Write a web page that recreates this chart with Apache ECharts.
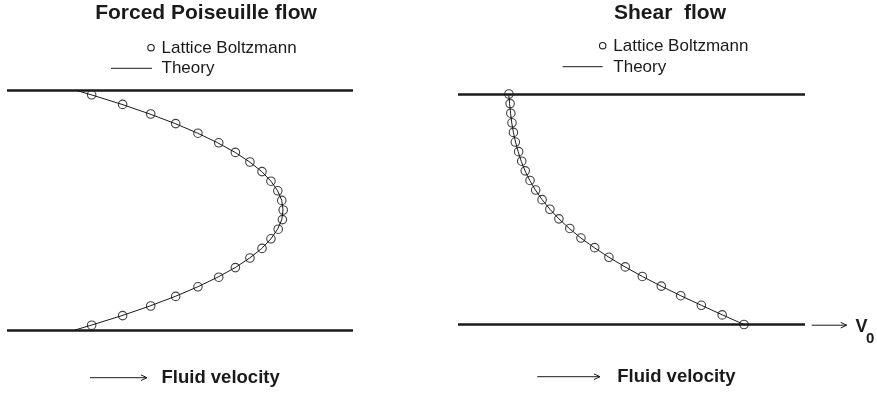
<!DOCTYPE html>
<html>
<head>
<meta charset="utf-8">
<script src="https://cdn.jsdelivr.net/npm/echarts@6/dist/echarts.min.js"></script>
<style>
  html, body { margin: 0; padding: 0; background: #fff; }
  #chart { width: 877px; height: 393px; }
</style>
</head>
<body>
<div id="chart"></div>
<script>
// Forced Poiseuille flow: lattice nodes across the channel (wall at 0 and 25)
const poiseuilleNodesY = [24.5, 23.5, 22.5, 21.5, 20.5, 19.5, 18.5, 17.5, 16.5, 15.5, 14.5, 13.5, 12.5,
                          11.5, 10.5, 9.5, 8.5, 7.5, 6.5, 5.5, 4.5, 3.5, 2.5, 1.5, 0.5];
const poiseuilleLB = [0.080, 0.229, 0.364, 0.484, 0.591, 0.691, 0.771, 0.841, 0.899, 0.942, 0.975, 0.994, 1.001,
                      0.997, 0.977, 0.942, 0.899, 0.841, 0.771, 0.691, 0.591, 0.484, 0.364, 0.229, 0.080];
const poiseuilleTheoryY = [25, 24.5, 23.5, 22.5, 21.5, 20.5, 19.5, 18.5, 17.5, 16.5, 15.5, 14.5, 13.5, 12.5,
                           11.5, 10.5, 9.5, 8.5, 7.5, 6.5, 5.5, 4.5, 3.5, 2.5, 1.5, 0.5, 0];
const poiseuilleTheory = [0, 0.078, 0.226, 0.360, 0.482, 0.590, 0.686, 0.770, 0.840, 0.898, 0.942, 0.974, 0.994, 1.000,
                          0.994, 0.974, 0.942, 0.898, 0.840, 0.770, 0.686, 0.590, 0.482, 0.360, 0.226, 0.078, 0];

// Shear flow: moving wall at y = 0 (velocity v0 = 1), resting wall at y = 24
const shearNodesY = [24, 23, 22, 21, 20, 19, 18, 17, 16, 15, 14, 13, 12, 11, 10, 9, 8, 7, 6, 5, 4, 3, 2, 1, 0];
const shearLB = [0.008, 0.013, 0.016, 0.021, 0.027, 0.035, 0.049, 0.062, 0.077, 0.097, 0.121, 0.148, 0.181,
                 0.219, 0.265, 0.312, 0.370, 0.430, 0.499, 0.571, 0.651, 0.733, 0.820, 0.908, 1.000];
const shearTheory = [0.007, 0.011, 0.015, 0.020, 0.027, 0.036, 0.047, 0.060, 0.076, 0.096, 0.120, 0.148, 0.181,
                     0.219, 0.263, 0.312, 0.368, 0.430, 0.498, 0.571, 0.650, 0.733, 0.820, 0.909, 1.000];

const panelTitles = ['Forced Poiseuille flow', 'Shear  flow'];
const legendNames = ['Lattice Boltzmann', 'Theory'];
const axisCaption = 'Fluid velocity';

const ink = '#1a1a1a';
const font = 'Arial, "Liberation Sans", Helvetica, sans-serif';

const pairs = (xs, ys) => xs.map((v, i) => [v, ys[i]]);

const wallStyle = { color: ink, width: 2.6, type: 'solid' };
const walls = (lo, hi) => ({
  silent: true, symbol: 'none', animation: false,
  label: { show: false },
  lineStyle: wallStyle,
  data: [{ yAxis: lo }, { yAxis: hi }]
});

const circleStyle = { color: 'rgba(0,0,0,0)', borderColor: '#111', borderWidth: 1.1 };

function legendGroup(cx, cy, lineX0, lineX1, lineY, textX) {
  return [
    { type: 'circle', shape: { cx: cx, cy: cy, r: 3.2 }, style: { fill: 'none', stroke: ink, lineWidth: 1.1 } },
    { type: 'text', x: textX, y: cy + 0.8, style: { text: legendNames[0], font: '17px ' + font, fill: ink, textVerticalAlign: 'middle' } },
    { type: 'line', shape: { x1: lineX0, y1: lineY, x2: lineX1, y2: lineY }, style: { stroke: ink, lineWidth: 1 } },
    { type: 'text', x: textX, y: lineY + 0.5, style: { text: legendNames[1], font: '17px ' + font, fill: ink, textVerticalAlign: 'middle' } }
  ];
}

function arrow(x0, x1, y) {
  return [
    { type: 'line', shape: { x1: x0, y1: y, x2: x1, y2: y }, style: { stroke: ink, lineWidth: 1 } },
    { type: 'polyline', shape: { points: [[x1 - 6, y - 2.8], [x1, y], [x1 - 6, y + 2.8]] }, style: { stroke: ink, lineWidth: 1, fill: 'none' } }
  ];
}

const chart = echarts.init(document.getElementById('chart'), null, { renderer: 'canvas' });

chart.setOption({
  animation: false,
  backgroundColor: '#fff',
  grid: [
    { left: 7, top: 90, width: 346, height: 240 },
    { left: 458, top: 94, width: 347, height: 230.5 }
  ],
  xAxis: [
    { gridIndex: 0, type: 'value', min: -0.3269, max: 1.3365, show: false },
    { gridIndex: 1, type: 'value', min: -0.2068, max: 1.2574, show: false }
  ],
  yAxis: [
    { gridIndex: 0, type: 'value', min: 0, max: 25, show: false },
    { gridIndex: 1, type: 'value', min: 0, max: 24, show: false }
  ],
  series: [
    {
      name: legendNames[1], type: 'line', xAxisIndex: 0, yAxisIndex: 0,
      data: pairs(poiseuilleTheory, poiseuilleTheoryY),
      showSymbol: false, lineStyle: { color: '#1a1a1a', width: 1 },
      markLine: walls(0, 25), z: 2
    },
    {
      name: legendNames[0], type: 'scatter', xAxisIndex: 0, yAxisIndex: 0,
      data: pairs(poiseuilleLB, poiseuilleNodesY),
      symbol: 'circle', symbolSize: 8.5, itemStyle: circleStyle, z: 3
    },
    {
      name: legendNames[1], type: 'line', xAxisIndex: 1, yAxisIndex: 1,
      data: pairs(shearTheory, shearNodesY),
      showSymbol: false, lineStyle: { color: '#1a1a1a', width: 1 },
      markLine: walls(0, 24), z: 2
    },
    {
      name: legendNames[0], type: 'scatter', xAxisIndex: 1, yAxisIndex: 1,
      data: pairs(shearLB, shearNodesY),
      symbol: 'circle', symbolSize: 8.5, itemStyle: circleStyle, z: 3
    }
  ],
  graphic: [
    { type: 'text', x: 206, y: 13, style: { text: panelTitles[0], font: 'bold 21px ' + font, fill: ink, textAlign: 'center', textVerticalAlign: 'middle' } },
    { type: 'text', x: 670, y: 13, style: { text: panelTitles[1], font: 'bold 21px ' + font, fill: ink, textAlign: 'center', textVerticalAlign: 'middle' } },
    ...legendGroup(151, 47.7, 111, 152, 68.3, 161.5),
    ...legendGroup(602.7, 45.7, 562.7, 602.7, 66.7, 613.3),
    ...arrow(90, 147, 377.7),
    { type: 'text', x: 161.5, y: 377.5, style: { text: axisCaption, font: 'bold 18.5px ' + font, fill: ink, textVerticalAlign: 'middle' } },
    ...arrow(537.3, 600, 376.7),
    { type: 'text', x: 617.3, y: 376.5, style: { text: axisCaption, font: 'bold 18.5px ' + font, fill: ink, textVerticalAlign: 'middle' } },
    ...arrow(811.7, 846.7, 325.2),
    { type: 'text', x: 855.5, y: 327.5, style: { text: 'V', font: 'bold 18px ' + font, fill: ink, textVerticalAlign: 'middle' } },
    { type: 'text', x: 866, y: 339, style: { text: '0', font: 'bold 15px ' + font, fill: ink, textVerticalAlign: 'middle' } }
  ]
});
</script>
</body>
</html>
